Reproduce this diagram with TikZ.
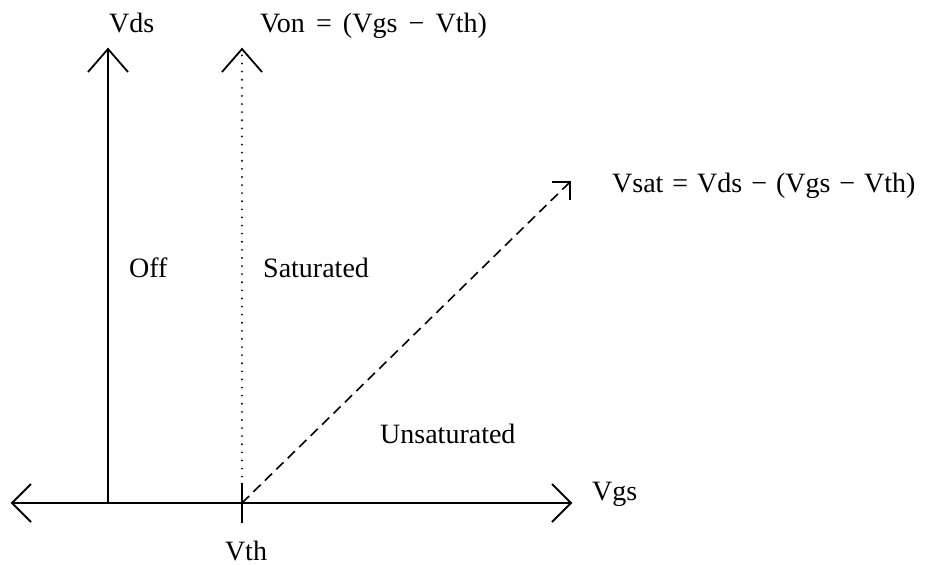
\documentclass[tikz,border=0pt]{standalone}
\usepackage{fontspec}
\setmainfont{Liberation Serif}
\begin{document}
\begin{tikzpicture}[x=1pt,y=-1pt,
  axisline/.style={line width=2pt},
  dotline/.style={line width=2pt, line cap=round, dash pattern=on 0.1pt off 8pt},
  dashline/.style={line width=1.6pt, dash pattern=on 10pt off 6pt},
  headline/.style={line width=1.8pt},
  lbl/.style={inner sep=0pt, anchor=base west, font=\fontsize{28}{33}\selectfont}
]
\useasboundingbox (0,0) rectangle (930,565);
% coordinates
\coordinate (L) at (12,503);
\coordinate (R) at (571,503);
\coordinate (O1) at (108,503);
\coordinate (T1) at (108,49);
\coordinate (O2) at (242,501);
\coordinate (T2) at (242,49);
\coordinate (Vt) at (242,503);
\coordinate (TkA) at (242,483);
\coordinate (TkB) at (242,523);
\coordinate (D) at (570,182);
% horizontal axis
\draw[axisline] (L) -- (R);
\draw[headline] (L) ++(19,-19) -- (L) -- ++(19,19);
\draw[headline] (R) ++(-19,-19) -- (R) -- ++(-19,19);
% Vds axis
\draw[axisline] (O1) -- (T1);
\draw[headline] (T1) ++(-20,23) -- (T1) -- ++(20,23);
% Von dotted line
\draw[dotline] (O2) -- (T2);
\draw[headline] (T2) ++(-20,23) -- (T2) -- ++(20,23);
% tick at Vth
\draw[axisline] (TkA) -- (TkB);
% Vsat dashed line
\draw[dashline] (Vt) -- (D);
\draw[headline] (D) ++(-18,0) -- (D) -- ++(0,18);
% labels
\node[lbl] (vds) at (109,32) {Vds};
\node[lbl] (von) at (260,32) {Von\hspace{0.4em}=\hspace{0.4em}(Vgs\hspace{0.4em}−\hspace{0.4em}Vth)};
\node[lbl] (vsat) at (612,192) {Vsat\hspace{0.32em}=\hspace{0.32em}Vds\hspace{0.32em}−\hspace{0.32em}(Vgs\hspace{0.32em}−\hspace{0.32em}Vth)};
\node[lbl] (off) at (129,277) {Off};
\node[lbl] (sat) at (263,277) {Saturated};
\node[lbl] (unsat) at (380,443) {Unsaturated};
\node[lbl] (vgs) at (592,500) {Vgs};
\node[lbl, anchor=base] (vth) at (246,560) {Vth};
\end{tikzpicture}
\end{document}
